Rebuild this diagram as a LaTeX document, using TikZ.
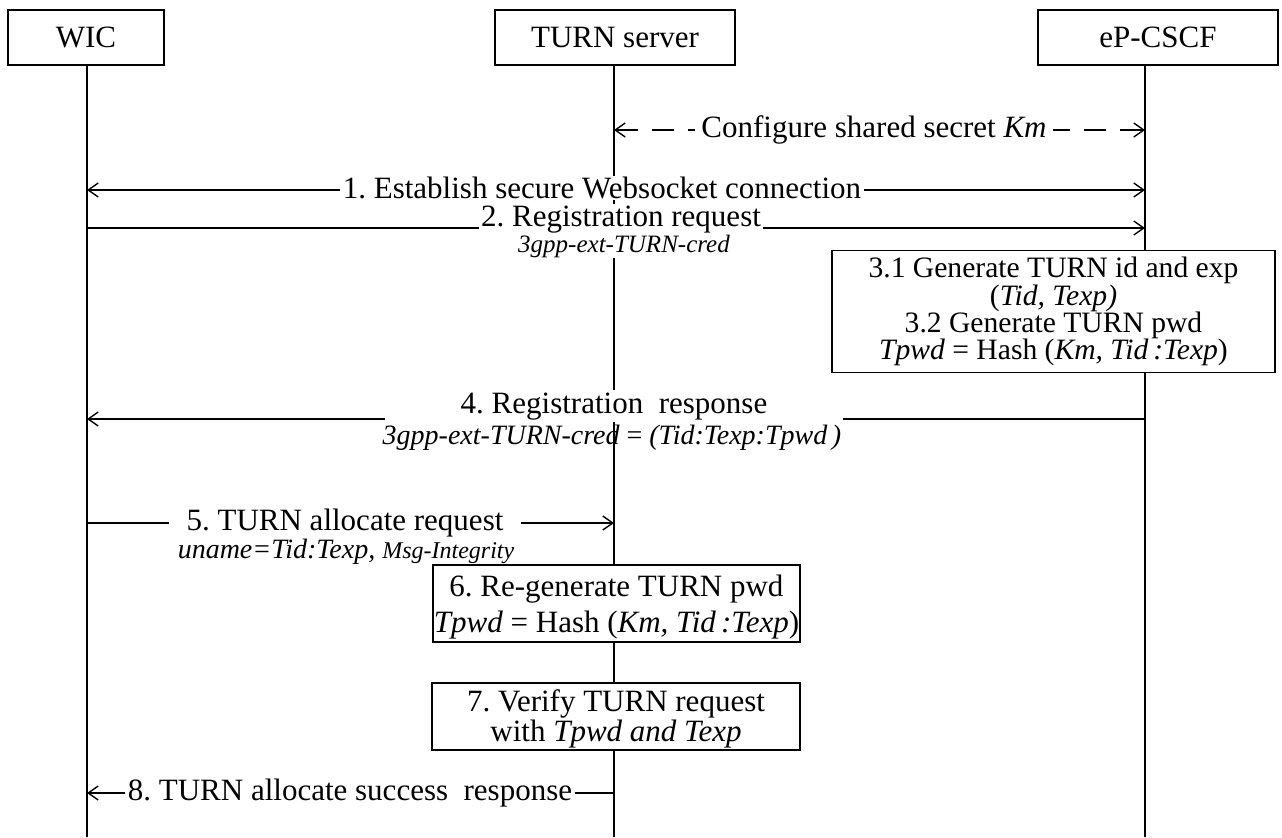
\documentclass[tikz,border=0pt]{standalone}
\usepackage{fontspec}
\setmainfont{Liberation Serif}
\usetikzlibrary{arrows.meta}
\newcommand\mytightlines{\lineskiplimit=-20pt\relax}
\begin{document}
\frenchspacing
\begin{tikzpicture}[x=0.5pt,y=-0.5pt,
  actor/.style={draw,line width=0.9pt,minimum width=120pt,minimum height=27.5pt,inner sep=0pt,font=\fontsize{15.5}{18}\selectfont},
  life/.style={line width=0.7pt},
  msg/.style={line width=0.7pt},
  arr/.style={-{Straight Barb[length=5pt,width=7pt,line width=0.7pt]}},
  arrboth/.style={{Straight Barb[length=5pt,width=7pt,line width=0.7pt]}-{Straight Barb[length=5pt,width=7pt,line width=0.7pt]}},
  lbl/.style={fill=white,inner xsep=1.2pt,inner ysep=0.3pt,font=\fontsize{15.5}{18}\selectfont},
  sub/.style={inner sep=0.5pt,font=\fontsize{14}{17}\selectfont\itshape},
  procbox/.style={draw,fill=white,line width=0.9pt,align=center,inner sep=0pt,font=\fontsize{14.8}{13.6}\selectfont\mytightlines}
]
\useasboundingbox (0,0) rectangle (1282,837);

% lifelines
\coordinate (wt) at (87,65);   \coordinate (wb) at (87,837);
\coordinate (tt) at (614,65);  \coordinate (tb) at (614,837);
\coordinate (et) at (1145,65); \coordinate (eb) at (1145,837);
\draw[life] (wt) -- (wb);
\draw[life] (tt) -- (tb);
\draw[life] (et) -- (eb);

% actors
\node[actor,minimum width=78pt] (wic) at (86,37.5) {WIC};
\node[actor] (turn) at (615,37.5) {TURN server};
\node[actor] (ep) at (1158,37.5) {eP-CSCF};

% configure shared secret
\coordinate (m0a) at (614,130); \coordinate (m0b) at (1145,130);
\draw[msg,arrboth,dash pattern=on 11pt off 7pt] (m0a) -- (m0b);
\node[lbl,inner xsep=3pt] (l0) at (874,130) {Configure shared secret \textit{Km}};

% 2 (drawn first so that label 1 stays on top)
\coordinate (m2a) at (87,228); \coordinate (m2b) at (1145,228);
\draw[msg,arr] (m2a) -- (m2b);
\node[lbl,anchor=base,inner ysep=0.8pt] (l2) at (621,226) {2. Registration request};
\node[sub,fill=white,font=\fontsize{12.5}{15}\selectfont\itshape] (s2) at (624,246) {3gpp-ext-TURN-cred};

% 1
\coordinate (m1a) at (87,190); \coordinate (m1b) at (1145,190);
\draw[msg,arrboth] (m1a) -- (m1b);
\node[lbl] (l1) at (602,188) {1. Establish secure Websocket connection};

% 3
\node[procbox,minimum width=221.5pt,minimum height=61pt] (p3) at (1053.5,311.5)
  {3.1 Generate TURN id and exp\\(\textit{Tid, Texp)}\\3.2 Generate TURN pwd\\\textit{Tpwd} = Hash (\textit{Km, Tid\,:Texp})};

% 4
\coordinate (m4a) at (1145,419); \coordinate (m4b) at (87,419);
\draw[msg,arr] (m4a) -- (m4b);
\node[lbl,anchor=base,minimum width=229pt,inner ysep=1pt] (l4) at (614,413) {4. Registration\ \ response};
\node[sub] (s4) at (612,438) {3gpp-ext-TURN-cred {\upshape=} (Tid:Texp:Tpwd\,)};

% 5
\coordinate (m5a) at (87,523); \coordinate (m5b) at (614,523);
\draw[msg,arr] (m5a) -- (m5b);
\node[lbl,inner xsep=9pt] (l5) at (345,523) {5. TURN allocate request};
\node[sub] (s5) at (346,552) {uname=Tid:Texp, {\fontsize{12}{14}\selectfont Msg-Integrity}};

% 6
\node[procbox,minimum width=183.5pt,minimum height=38.5pt,font=\fontsize{15.5}{18}\selectfont] (p6) at (616.5,603.5)
  {\rule{0pt}{14pt}6. Re-generate TURN pwd\\\textit{Tpwd} = Hash (\textit{Km, Tid\,:Texp})};

% 7
\node[procbox,minimum width=184pt,minimum height=33.5pt,font=\fontsize{15.5}{15}\selectfont] (p7) at (616,716.5)
  {\rule{0pt}{13pt}7. Verify TURN request\\with \textit{Tpwd and Texp}};

% 8
\coordinate (m8a) at (614,793); \coordinate (m8b) at (87,793);
\draw[msg,arr] (m8a) -- (m8b);
\node[lbl] (l8) at (350,793) {8. TURN allocate success\ \ response};
\end{tikzpicture}
\end{document}
